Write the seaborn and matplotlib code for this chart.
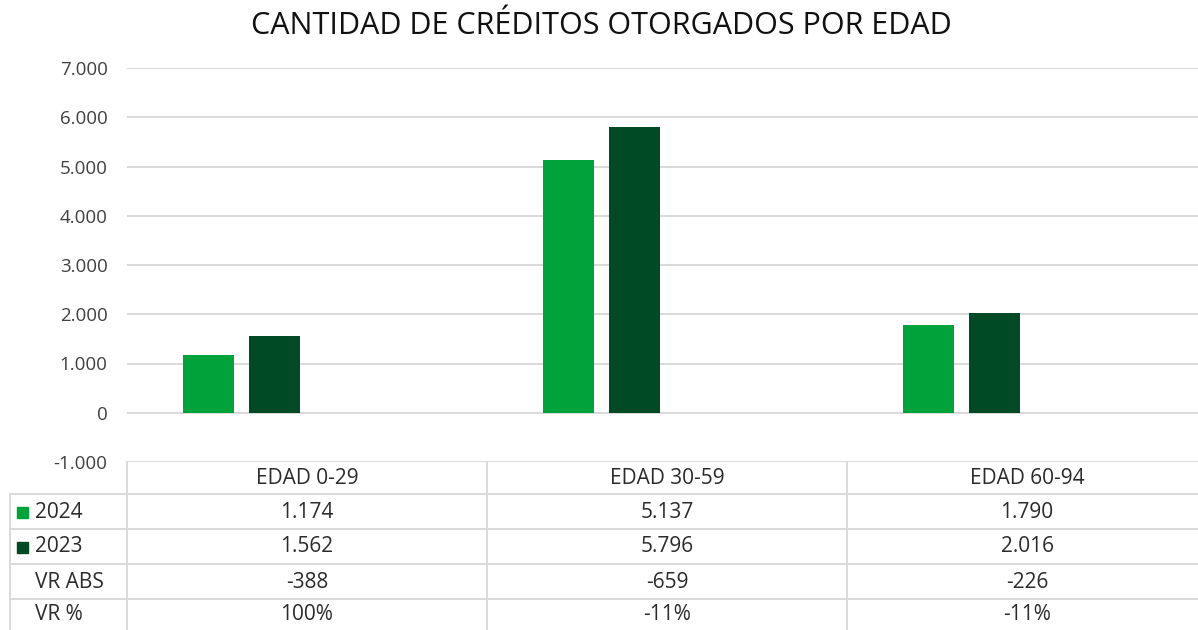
import matplotlib
matplotlib.use("Agg")
import matplotlib.pyplot as plt
import matplotlib.transforms as mtransforms
from matplotlib.lines import Line2D
from matplotlib.patches import Rectangle
import seaborn as sns
import pandas as pd

categories = ["EDAD 0-29", "EDAD 30-59", "EDAD 60-94"]
series_names = ["2024", "2023"]
values_2024 = [1174, 5137, 1790]
values_2023 = [1562, 5796, 2016]
vr_abs = [-388, -659, -226]
vr_pct = [100, -11, -11]
yticks = [-1000, 0, 1000, 2000, 3000, 4000, 5000, 6000, 7000]

colors = {"2024": "#00A33A", "2023": "#004B25", "VR ABS": "#FFFFFF", "VR %": "#FFFFFF"}

def fmt(v):
    return f"{v:,}".replace(",", ".")

df = pd.DataFrame({
    "cat": categories * 2,
    "serie": ["2024"] * 3 + ["2023"] * 3,
    "val": values_2024 + values_2023,
})

sns.set_theme(style="white")
FONT = ["Open Sans", "DejaVu Sans"]
plt.rcParams["font.family"] = FONT

W, H = 1198, 630
fig = plt.figure(figsize=(W / 100, H / 100), dpi=100)
ax_l, ax_r, ax_t, ax_b = 127, 1207, 68, 462
ax = fig.add_axes([ax_l / W, 1 - ax_b / H, (ax_r - ax_l) / W, (ax_b - ax_t) / H])

sns.barplot(data=df, x="cat", y="val", hue="serie",
            hue_order=["2024", "2023", "VR ABS", "VR %"], order=categories,
            palette=colors, width=0.728, gap=0.22, legend=False, ax=ax,
            saturation=1, edgecolor="none", zorder=3)

ax.set_xlim(-0.5, 2.5)
ax.set_ylim(-1000, 7000)
ax.set_yticks(yticks)
ax.set_yticklabels([fmt(v) for v in yticks], fontsize=13.5, color="#404040")
ax.set_xticks([])
ax.set_xlabel("")
ax.set_ylabel("")
ax.tick_params(axis="y", length=0, pad=14)
for s in ax.spines.values():
    s.set_visible(False)
ax.yaxis.grid(True, color="#D9D9D9", linewidth=1.4, zorder=0)
ax.set_axisbelow(True)

fig.text(0.502, 1 - 26 / H, "CANTIDAD DE CRÉDITOS OTORGADOS POR EDAD",
         ha="center", va="center", fontsize=22, color="#111111")

# data table
line_kw = dict(color="#D9D9D9", linewidth=1.4)
def hline(y, x0, x1):
    fig.add_artist(Line2D([x0 / W, x1 / W], [1 - y / H, 1 - y / H], **line_kw))
def vline(x, y0, y1):
    fig.add_artist(Line2D([x / W, x / W], [1 - y0 / H, 1 - y1 / H], **line_kw))

for y in [494, 529, 564, 599]:
    hline(y, 10, W)
vline(10, 494, H)
for x in [127, 487, 847]:
    vline(x, 462, H)

blend = mtransforms.blended_transform_factory(ax.transData, fig.transFigure)
tfs = 15
tcol = "#2B2B2B"
row_y = [478, 512, 547, 582, 615]
for i, c in enumerate(categories):
    ax.text(i, 1 - row_y[0] / H, c, transform=blend, ha="center", va="center",
            fontsize=tfs, color=tcol, clip_on=False)
    ax.text(i, 1 - row_y[1] / H, fmt(values_2024[i]), transform=blend, ha="center",
            va="center", fontsize=tfs, color=tcol, clip_on=False)
    ax.text(i, 1 - row_y[2] / H, fmt(values_2023[i]), transform=blend, ha="center",
            va="center", fontsize=tfs, color=tcol, clip_on=False)
    ax.text(i, 1 - row_y[3] / H, fmt(vr_abs[i]), transform=blend, ha="center",
            va="center", fontsize=tfs, color=tcol, clip_on=False)
    ax.text(i, 1 - row_y[4] / H, f"{vr_pct[i]}%", transform=blend, ha="center",
            va="center", fontsize=tfs, color=tcol, clip_on=False)

labels = series_names + ["VR ABS", "VR %"]
for j, lab in enumerate(labels):
    y = row_y[j + 1]
    fig.text(35 / W, 1 - y / H, lab, ha="left", va="center", fontsize=tfs, color=tcol)
    if j < 2:
        fig.add_artist(Rectangle((17 / W, 1 - (y + 6) / H), 11 / W, 11 / H,
                                 transform=fig.transFigure, color=colors[lab]))

fig.savefig("out.png", dpi=100)
